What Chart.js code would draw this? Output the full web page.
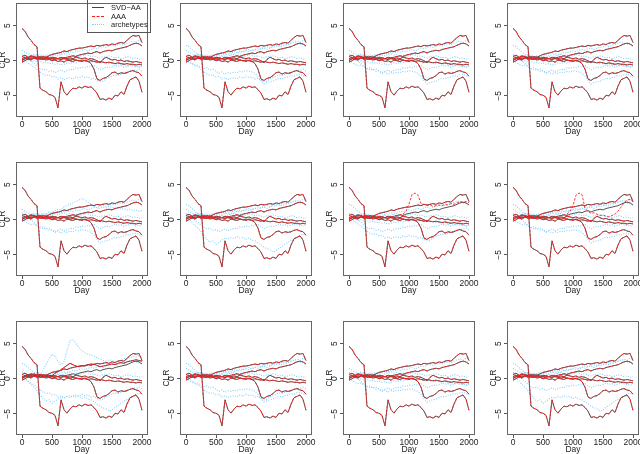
<!DOCTYPE html>
<html>
<head>
<meta charset="utf-8">
<script src="https://cdn.jsdelivr.net/npm/chart.js@4.4.0/dist/chart.umd.min.js"></script>
<style>
html,body{margin:0;padding:0;background:#fff;}
body{width:640px;height:454px;position:relative;overflow:hidden;font-family:"Liberation Sans",Arial,sans-serif;}
canvas{position:absolute;}
#legend{position:absolute;left:87px;top:-1px;width:64px;height:34px;border:1px solid #555;box-sizing:border-box;font-size:7.5px;color:#222;}
.row{position:absolute;left:4px;height:9px;line-height:9px;width:58px;}
.swatch{position:absolute;left:0;top:4px;width:12px;height:0;}
.lbl{position:absolute;left:19px;top:0;white-space:nowrap;}
</style>
</head>
<body>
<div id="legend">
  <div class="row" style="top:3px"><div class="swatch" style="border-top:1px solid #444"></div><span class="lbl">SVD−AA</span></div>
  <div class="row" style="top:11.5px"><div class="swatch" style="border-top:1px dashed #ff1a1a"></div><span class="lbl">AAA</span></div>
  <div class="row" style="top:20px"><div class="swatch" style="border-top:1px dotted #87cefa"></div><span class="lbl">archetypes</span></div>
</div>
<script>
var days = [0,50,100,150,200,250,300,350,400,450,500,550,600,650,700,750,800,850,900,950,1000,
  1050,1100,1150,1200,1250,1300,1350,1400,1450,1500,1550,1600,1650,1700,1750,1800,1850,1900,1950,2000];
var xTicks = [0,500,1000,1500,2000];
var yTicks = [-5,0,5];

// components fitted by SVD-AA / AAA (nearly identical)
var lineA = [4.6,4.2,3.4,2.9,2.3,2.0,-3.9,-4.2,-4.4,-4.8, -4.9,-5.2,-6.7,-3.0,-4.4,-4.9,-4.3,-3.9,-4.0,-3.7,
  -3.9,-3.6,-3.8,-3.7,-4.1,-4.6,-5.5,-5.4,-5.6,-5.3, -5.5,-4.9,-5.0,-4.4,-4.8,-3.6,-2.7,-2.5,-2.3,-2.9, -4.5];
var lineB = [0.1,0.3,0.2,0.4,0.3,0.5,0.4,0.6,0.5,0.7, 0.9,1.0,1.1,1.2,1.4,1.3,1.5,1.6,1.7,1.8,
  1.8,1.9,2.0,2.1,2.0,2.2,2.1,2.2,2.3,2.2, 2.4,2.3,2.5,2.6,2.5,2.9,3.3,3.6,3.5,3.6, 2.6];
var lineC = [0.3,0.5,0.4,0.6,0.5,0.4,0.3,0.2,0.3,0.2, 0.1,0.2,0.3,0.2,0.4,0.5,0.6,0.7,0.6,0.8,
  0.9,1.0,1.1,1.0,1.2,1.3,1.1,1.3,1.4,1.5, 1.4,1.6,1.7,1.8,1.9,2.0,2.2,2.4,2.5,2.4, 2.1];
var lineD = [0.6,0.8,0.5,0.7,0.6,0.5,0.6,0.4,0.5,0.4, 0.3,0.4,0.3,0.2,0.3,0.2,0.1,0.2,0.1,0.0,
  0.1,0.0,-0.1,0.0,-0.1,-0.2,-0.1,-0.2,-0.3,-0.2, -0.3,-0.4,-0.3,-0.4,-0.5,-0.4,-0.5,-0.5,-0.6,-0.5, -0.6];
var lineE = [0.0,0.3,0.4,0.2,0.5,0.3,0.2,0.3,0.1,0.2, 0.0,0.1,-0.1,0.0,-0.2,0.1,0.0,-0.1,0.1,0.0,
  -0.1,0.1,-0.1,-0.4,-1.2,-2.6,-2.8,-2.5,-2.4,-2.1, -1.7,-1.6,-1.9,-1.7,-1.8,-1.7,-1.5,-1.4,-1.6,-1.7, -2.2];
var lineF = [-0.2,0.0,0.3,0.1,0.4,0.2,0.5,0.3,0.4,0.3, 0.5,0.4,0.3,0.5,0.4,0.3,0.4,0.3,0.5,0.4,
  0.3,0.4,0.2,0.3,0.2,0.0,-0.3,0.2,0.5,0.3, 0.1,0.2,0.0,0.1,-0.1,0.0,-0.1,-0.2,-0.1,-0.2, -0.3];
var lineR7 = [0.3,0.5,0.4,0.6,0.5,0.4,0.3,0.2,0.3,0.2, 0.1,0.2,0.3,0.2,0.4,0.5,0.6,0.7,0.8,1.2,
  2.2,3.6,3.8,3.5,2.3,2.2,2.0,2.1,1.9,2.0, 2.1,2.0,2.2,2.1,2.3,2.2,2.4,2.6,2.5,2.6, 2.4];
var lineR8 = [0.3,0.5,0.4,0.6,0.5,0.4,0.3,0.2,0.3,0.2, 0.1,0.2,0.3,0.2,0.4,0.5,0.6,0.7,0.8,1.2,
  2.0,3.5,3.8,3.6,1.6,1.2,0.9,1.0,0.8,0.6, 0.7,0.5,0.4,0.6,0.8,1.2,1.8,2.4,2.8,2.9, 2.6];
var lineR9 = [0.2,0.4,0.6,0.4,0.7,0.5,0.6,0.4,0.3,0.5, 0.4,0.8,1.0,1.3,1.6,1.9,2.2,2.0,1.8,1.7,
  1.9,1.8,2.0,1.9,2.1,1.9,1.7,1.8,1.9,2.0, 2.1,2.0,2.2,2.3,2.2,2.4,2.5,2.6,2.7,2.6, 2.5];

// archetype lines
var arch1 = [1.5,1.2,1.0,0.8,0.9,0.7,0.6,0.8,0.7,0.9, 0.8,1.0,1.1,0.9,1.2,1.1,1.3,1.2,1.4,1.3,
  1.5,1.6,1.4,1.6,1.8,1.7,1.9,2.0,1.9,2.1, 2.2,2.1,2.3,2.4,2.3,2.5,2.7,2.8,2.6,2.9, 2.8];
var arch2 = [0.9,0.6,0.3,0.0,-0.4,-0.8,-1.1,-1.3,-1.2,-1.5, -1.4,-1.7,-1.5,-1.3,-1.6,-1.4,-1.2,-1.3,-1.0,-1.1,
  -0.9,-1.0,-0.8,-0.9,-0.7,-1.0,-1.3,-1.1,-0.9,-1.0, -0.8,-0.6,-0.8,-0.7,-0.9,-0.8,-0.6,-0.7,-0.9,-0.8, -1.0];
var arch3 = [0.2,0.0,-0.3,-0.6,-0.9,-1.2,-1.6,-1.9,-2.1,-2.0, -2.3,-2.2,-2.6,-2.4,-2.7,-2.5,-2.4,-2.6,-2.3,-2.5,
  -2.2,-2.4,-2.3,-2.6,-2.5,-2.8,-3.0,-2.9,-2.6,-2.4, -2.2,-2.0,-2.1,-1.9,-1.8,-1.6,-1.5,-1.3,-1.4,-1.2, -1.5];
var arch4 = [0.5,0.7,0.6,0.8,0.7,0.9,0.8,0.6,0.7,0.5, 0.6,0.8,0.7,0.9,1.0,0.8,0.9,0.7,0.8,0.6,
  0.7,0.9,0.8,0.6,0.7,0.5,0.4,0.6,0.5,0.7, 0.6,0.4,0.5,0.3,0.4,0.6,0.5,0.3,0.4,0.2, 0.3];
var arch5 = [-0.1,0.2,0.1,-0.1,0.0,-0.2,-0.1,-0.3,-0.2,-0.4, -0.3,-0.5,-0.4,-0.6,-0.5,-0.3,-0.4,-0.2,-0.3,-0.1,
  -0.2,0.0,-0.1,0.1,0.0,-0.2,-0.1,-0.3,-0.2,-0.4, -0.3,-0.5,-0.4,-0.6,-0.5,-0.7,-0.6,-0.8,-0.7,-0.9, -0.8];
var arch6 = [0.4,0.2,0.5,0.3,0.6,0.4,0.7,0.9,0.8,1.1, 1.0,1.3,1.5,1.4,1.8,2.0,2.2,2.4,2.6,2.8,
  3.0,2.8,2.5,2.2,1.9,1.7,1.6,1.8,1.7,1.9, 1.8,1.6,1.7,1.5,1.6,1.4,1.5,1.3,1.4,1.2, 1.3];
var arch7 = [0.3,0.1,-0.4,-0.8,-1.2,-1.7,-2.3,-2.8,-3.2,-3.0, -3.5,-3.2,-2.9,-2.6,-2.8,-2.5,-2.7,-2.4,-2.6,-2.5,
  -2.8,-2.6,-2.9,-3.0,-3.3,-3.6,-3.9,-4.1,-4.3,-4.6, -4.4,-4.1,-3.8,-3.5,-3.2,-2.9,-2.7,-2.4,-2.2,-2.0, -2.3];
var arch8 = [1.0,0.8,0.5,0.7,0.4,0.6,0.5,1.2,2.0,2.8, 3.5,3.2,2.5,2.0,2.4,4.0,5.4,5.5,5.0,4.4,
  4.0,3.7,3.5,3.4,3.2,3.0,2.8,2.6,2.5,2.7, 2.6,2.4,2.5,2.7,2.9,2.8,3.0,3.2,3.1,3.3, 3.0];
var arch9 = [2.2,2.0,1.6,1.2,0.9,0.8,0.6,0.5,0.4,0.3, 0.4,0.5,0.6,0.5,0.7,0.9,1.0,1.2,1.1,1.3,
  1.4,1.3,1.5,1.6,1.5,1.7,1.8,1.6,1.8,1.9, 2.0,2.1,2.0,2.2,2.3,2.5,2.6,2.5,2.4,2.3, 2.1];
var arch10 = [0.0,-0.2,-0.5,-0.7,-0.6,-0.9,-1.1,-1.0,-1.3,-1.2, -1.5,-1.8,-1.6,-1.9,-1.7,-1.8,-1.6,-1.7,-1.5,-1.6,
  -1.4,-1.5,-1.6,-1.8,-2.2,-2.8,-3.3,-3.1,-3.0,-2.9, -2.7,-2.5,-2.6,-2.4,-2.3,-2.1,-2.2,-2.0,-1.9,-2.1, -2.3];

var base = [lineA,lineB,lineC,lineD,lineE,lineF];
var panelBlack = [base,base,base,base, base,base,base,base,
  [lineA,lineB,lineC,lineD,lineE,lineF,lineR9],base,base,base];
var panelRed = [base,base,base,base, base,base,
  [lineA,lineB,lineR7,lineD,lineE,lineF],[lineA,lineB,lineR8,lineD,lineE,lineF],
  [lineA,lineB,lineR9,lineD,lineE,lineF],base,base,base];
var panelBlue = [
  [arch1,arch2,arch3,arch4,arch5], [arch9,arch1,arch4,arch10,arch3],
  [arch1,arch4,arch2,arch10,arch5], [arch9,arch4,arch2,arch10,arch5],
  [arch6,arch1,arch4,arch2,arch10], [arch9,arch1,arch4,arch7,arch2],
  [arch9,arch4,arch2,arch3,arch5], [arch9,arch1,arch2,arch10,arch4],
  [arch8,arch9,arch7,arch3,arch4], [arch9,arch1,arch4,arch3,arch10],
  [arch1,arch4,arch2,arch10,arch5], [arch9,arch1,arch7,arch2,arch4]
];

var colLeft = [16,180,343,507];
var rowTop = [0,159,318];
var fontSpec = {size:8.5, family:'"Liberation Sans", Arial, sans-serif'};
var titleFont = {size:8.5, lineHeight:1.05, family:'"Liberation Sans", Arial, sans-serif'};

var boxPlugin = {
  id: 'box',
  afterDraw: function(chart){
    var a = chart.chartArea, ctx = chart.ctx;
    ctx.save();
    ctx.strokeStyle = '#666';
    ctx.lineWidth = 1;
    ctx.strokeRect(Math.round(a.left)+0.5, Math.round(a.top)+0.5,
      Math.round(a.right-a.left)-1, Math.round(a.bottom-a.top)-1);
    ctx.restore();
  }
};

function toPoints(vals){
  return vals.map(function(v,i){ return {x: days[i], y: v}; });
}

function fmt(v){
  return v < 0 ? '\u2212' + Math.abs(v) : '' + v;
}

function makePanel(i){
  var r = Math.floor(i/4), c = i%4;
  var cv = document.createElement('canvas');
  cv.width = 154; cv.height = 139;
  cv.style.left = (colLeft[c]-18) + 'px';
  cv.style.top = (rowTop[r]-2) + 'px';
  document.body.insertBefore(cv, document.getElementById('legend'));

  var datasets = [];
  panelRed[i].forEach(function(s){
    datasets.push({data: toPoints(s), borderColor:'#ff2020', borderWidth:0.9, borderDash:[2.5,1.5]});
  });
  panelBlack[i].forEach(function(s){
    datasets.push({data: toPoints(s), borderColor:'#444', borderWidth:0.9});
  });
  panelBlue[i].forEach(function(s){
    datasets.push({data: toPoints(s), borderColor:'#87cefa', borderWidth:1.1, borderDash:[1,1.5]});
  });

  new Chart(cv.getContext('2d'), {
    type: 'line',
    data: {datasets: datasets},
    options: {
      responsive: false,
      animation: false,
      devicePixelRatio: 1,
      events: [],
      layout: {padding: {left:0, top:2, right:4, bottom:0}},
      elements: {point: {radius:0}, line: {tension:0, fill:false}},
      plugins: {legend: {display:false}, tooltip: {enabled:false}},
      scales: {
        x: {
          type: 'linear', min: -100, max: 2100,
          afterBuildTicks: function(s){ s.ticks = xTicks.map(function(v){ return {value:v}; }); },
          afterFit: function(s){ s.height = 20; },
          grid: {drawOnChartArea:false, drawTicks:true, tickLength:3, color:'#555'},
          border: {display:false},
          ticks: {autoSkip:false, maxRotation:0, minRotation:0, padding:0, color:'#222', font:fontSpec,
            callback: function(v){ return '' + v; }},
          title: {display:true, text:'Day', padding:0, color:'#222', font:fontSpec}
        },
        y: {
          type: 'linear', min: -8.0, max: 8.2,
          afterBuildTicks: function(s){ s.ticks = yTicks.map(function(v){ return {value:v}; }); },
          afterFit: function(s){ s.width = 18; },
          grid: {drawOnChartArea:false, drawTicks:true, tickLength:3, color:'#555'},
          border: {display:false},
          ticks: {padding:0, minRotation:90, maxRotation:90, crossAlign:'center', color:'#222', font:fontSpec,
            callback: function(v){ return fmt(v); }},
          title: {display:true, text:'CLR', padding:0, color:'#222', font:titleFont}
        }
      }
    },
    plugins: [boxPlugin]
  });
}

for (var i = 0; i < 12; i++) makePanel(i);
</script>
</body>
</html>
